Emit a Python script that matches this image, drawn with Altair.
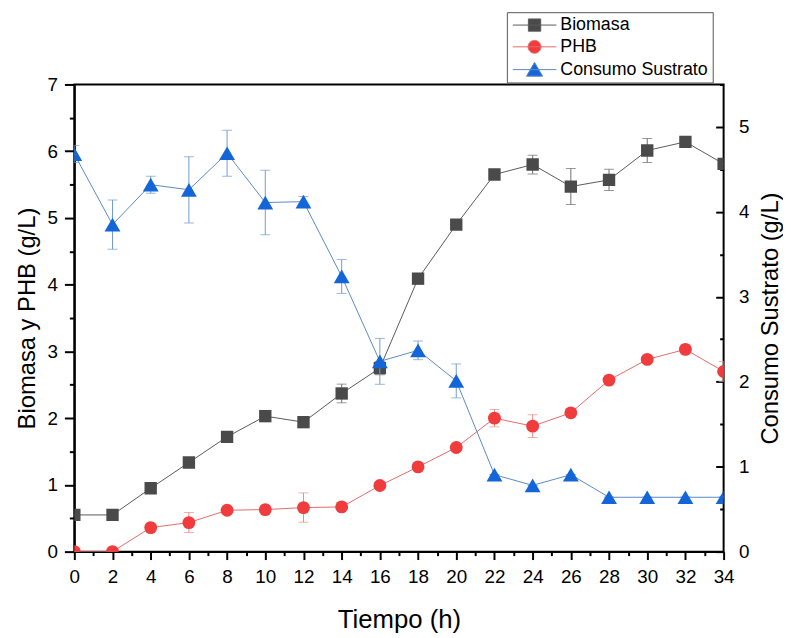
import altair as alt
import pandas as pd

# ---- data ----
tiempo = [0, 2, 4, 6, 8, 10, 12, 14, 16, 18, 20, 22, 24, 26, 28, 30, 32, 34]
biomasa = [0.55, 0.55, 0.95, 1.335, 1.72, 2.03, 1.94, 2.37, 2.75, 4.09, 4.90, 5.65, 5.80, 5.47, 5.57, 6.01, 6.14, 5.81]
biomasa_err = [0, 0, 0, 0, 0, 0, 0.08, 0.14, 0.10, 0, 0, 0, 0.14, 0.27, 0.16, 0.18, 0, 0]
phb = [0.0, 0.0, 0.36, 0.435, 0.62, 0.63, 0.66, 0.67, 0.99, 1.27, 1.56, 2.0, 1.88, 2.08, 2.57, 2.88, 3.03, 2.70]
phb_err = [0, 0, 0, 0.15, 0, 0, 0.22, 0, 0, 0.05, 0, 0.13, 0.17, 0, 0, 0, 0.07, 0.15]
sustrato = [4.68, 3.85, 4.32, 4.26, 4.69, 4.11, 4.12, 3.24, 2.24, 2.37, 2.01, 0.906, 0.78, 0.906, 0.64, 0.64, 0.64, 0.64]
sustrato_err = [0.10, 0.29, 0.10, 0.39, 0.27, 0.38, 0.06, 0.20, 0.27, 0.11, 0.20, 0, 0, 0, 0, 0, 0, 0]

series = ["Biomasa", "PHB", "Consumo Sustrato"]
marker_colors = ["#4a4a4a", "#f03c3c", "#1466d8"]
line_colors = ["#5a5a5a", "#e46a6a", "#5a8ac4"]
err_colors = ["#6e6e6e", "#e88a8a", "#6f9bd0"]

rows = []
for name, vals, errs in [("Biomasa", biomasa, biomasa_err), ("PHB", phb, phb_err),
                         ("Consumo Sustrato", sustrato, sustrato_err)]:
    for t, v, e in zip(tiempo, vals, errs):
        rows.append({"t": t, "serie": name, "v": v, "lo": v - e, "hi": v + e})
df = pd.DataFrame(rows)

FONT = "Liberation Sans"
base = alt.Chart(df)

x_axis = alt.Axis(
    title="Tiempo (h)", values=list(range(0, 35)),
    labelExpr="datum.value % 2 == 0 ? format(datum.value, 'd') : ''",
    tickSize={"condition": {"test": "datum.value % 2 == 0", "value": 8}, "value": 4},
    labelFontSize=19, titleFontSize=26, labelPadding=8, titlePadding=21,
    labelFlush=False, labelOverlap=False, domainWidth=2, tickWidth=2,
)
x_enc = alt.X("t:Q", scale=alt.Scale(domain=[0, 34], nice=False, zero=False), axis=x_axis)

yl_scale = alt.Scale(domain=[0, 7], nice=False)
yl_axis = alt.Axis(
    title="Biomasa y PHB (g/L)", orient="left",
    values=[i * 0.5 for i in range(15)],
    labelExpr="datum.value % 1 == 0 ? format(datum.value, 'd') : ''",
    tickSize={"condition": {"test": "datum.value % 1 == 0", "value": 10}, "value": 5},
    labelFontSize=19, titleFontSize=24, labelPadding=7, titlePadding=8,
    labelOverlap=False, domainWidth=2, tickWidth=2,
)
yr_scale = alt.Scale(domain=[0, 5.5], nice=False)
yr_axis = alt.Axis(
    title="Consumo Sustrato (g/L)", orient="right", titleAngle=270, titleBaseline="top",
    values=[i * 0.5 for i in range(12)],
    labelExpr="datum.value % 1 == 0 ? format(datum.value, 'd') : ''",
    tickSize=8, offset=-8, domain=False,
    tickDash={"condition": {"test": "datum.value % 1 == 0", "value": [8, 0]}, "value": [0, 4, 4]},
    labelFontSize=19, titleFontSize=24, labelPadding=15, titlePadding=10,
    labelOverlap=False, tickWidth=2,
)


def series_layers(idx, shape, size, yscale, yaxis):
    name = series[idx]
    src = base.transform_filter(alt.datum.serie == name)
    y = alt.Y("v:Q", scale=yscale, axis=yaxis)
    ylo = alt.Y("lo:Q", scale=yscale, axis=yaxis)
    yhi = alt.Y("hi:Q", scale=yscale, axis=yaxis)
    line = src.mark_line(color=line_colors[idx], strokeWidth=1, clip=True).encode(x=x_enc, y=y)
    bar = src.mark_rule(color=err_colors[idx], strokeWidth=1, clip=True).encode(
        x=x_enc, y=ylo, y2=alt.Y2("hi:Q"))
    cap_lo = src.mark_tick(orient="horizontal", size=10, thickness=1, color=err_colors[idx],
                           clip=True).encode(x=x_enc, y=ylo)
    cap_hi = src.mark_tick(orient="horizontal", size=10, thickness=1, color=err_colors[idx],
                           clip=True).encode(x=x_enc, y=yhi)
    pts = src.mark_point(shape=shape, size=size, filled=True, opacity=1, color=marker_colors[idx],
                         clip=True).encode(x=x_enc, y=y)
    return [line, bar, cap_lo, cap_hi, pts]


# legend symbols: a short line with the marker in its middle
legend_paths = [
    "M-1,0H5.29M1.25,-0.88H3.03V0.88H1.25Z",
    "M3.07,0A0.93,0.93,0,1,1,1.21,0A0.93,0.93,0,1,1,3.07,0Z M-1,0H5.29",
    "M-1,0H5.29M2.14,-1.05L3.3,0.95L0.98,0.95Z",
]
legend_def = alt.Legend(
    title=None, orient="none", legendX=437, legendY=-73,
    labelFont=FONT, labelFontSize=18, labelColor="black", labelLimit=400,
    symbolSize=196, symbolStrokeWidth=1, symbolOpacity=1, labelOffset=32,
    padding=4, rowPadding=4, strokeColor="#555555", fillColor="white",
)
legend_layer = base.mark_point(filled=True, opacity=0).encode(
    x=x_enc,
    y=alt.Y("v:Q", scale=yl_scale, axis=yl_axis),
    fill=alt.Fill("serie:N", scale=alt.Scale(domain=series, range=marker_colors), legend=legend_def),
    stroke=alt.Stroke("serie:N", scale=alt.Scale(domain=series, range=line_colors), legend=legend_def),
    shape=alt.Shape("serie:N", scale=alt.Scale(domain=series, range=legend_paths), legend=legend_def),
)

left = alt.layer(
    *series_layers(0, "square", 156, yl_scale, yl_axis),
    *series_layers(1, "circle", 169, yl_scale, yl_axis),
    legend_layer,
)
right = alt.layer(*series_layers(2, "triangle-up", 256, yr_scale, yr_axis))

chart = (
    alt.layer(left, right)
    .resolve_scale(y="independent")
    .properties(width=656, height=472, padding={"left": 7, "top": 0, "right": 0, "bottom": 0},
                background="white")
    .configure_view(stroke="black", strokeWidth=2)
    .configure_axis(
        labelFont=FONT, titleFont=FONT, labelColor="black", titleColor="black",
        titleFontWeight="normal", domainColor="black", tickColor="black", grid=False,
    )
)

chart.save("out.html", embed_options={"renderer": "svg", "actions": False})
